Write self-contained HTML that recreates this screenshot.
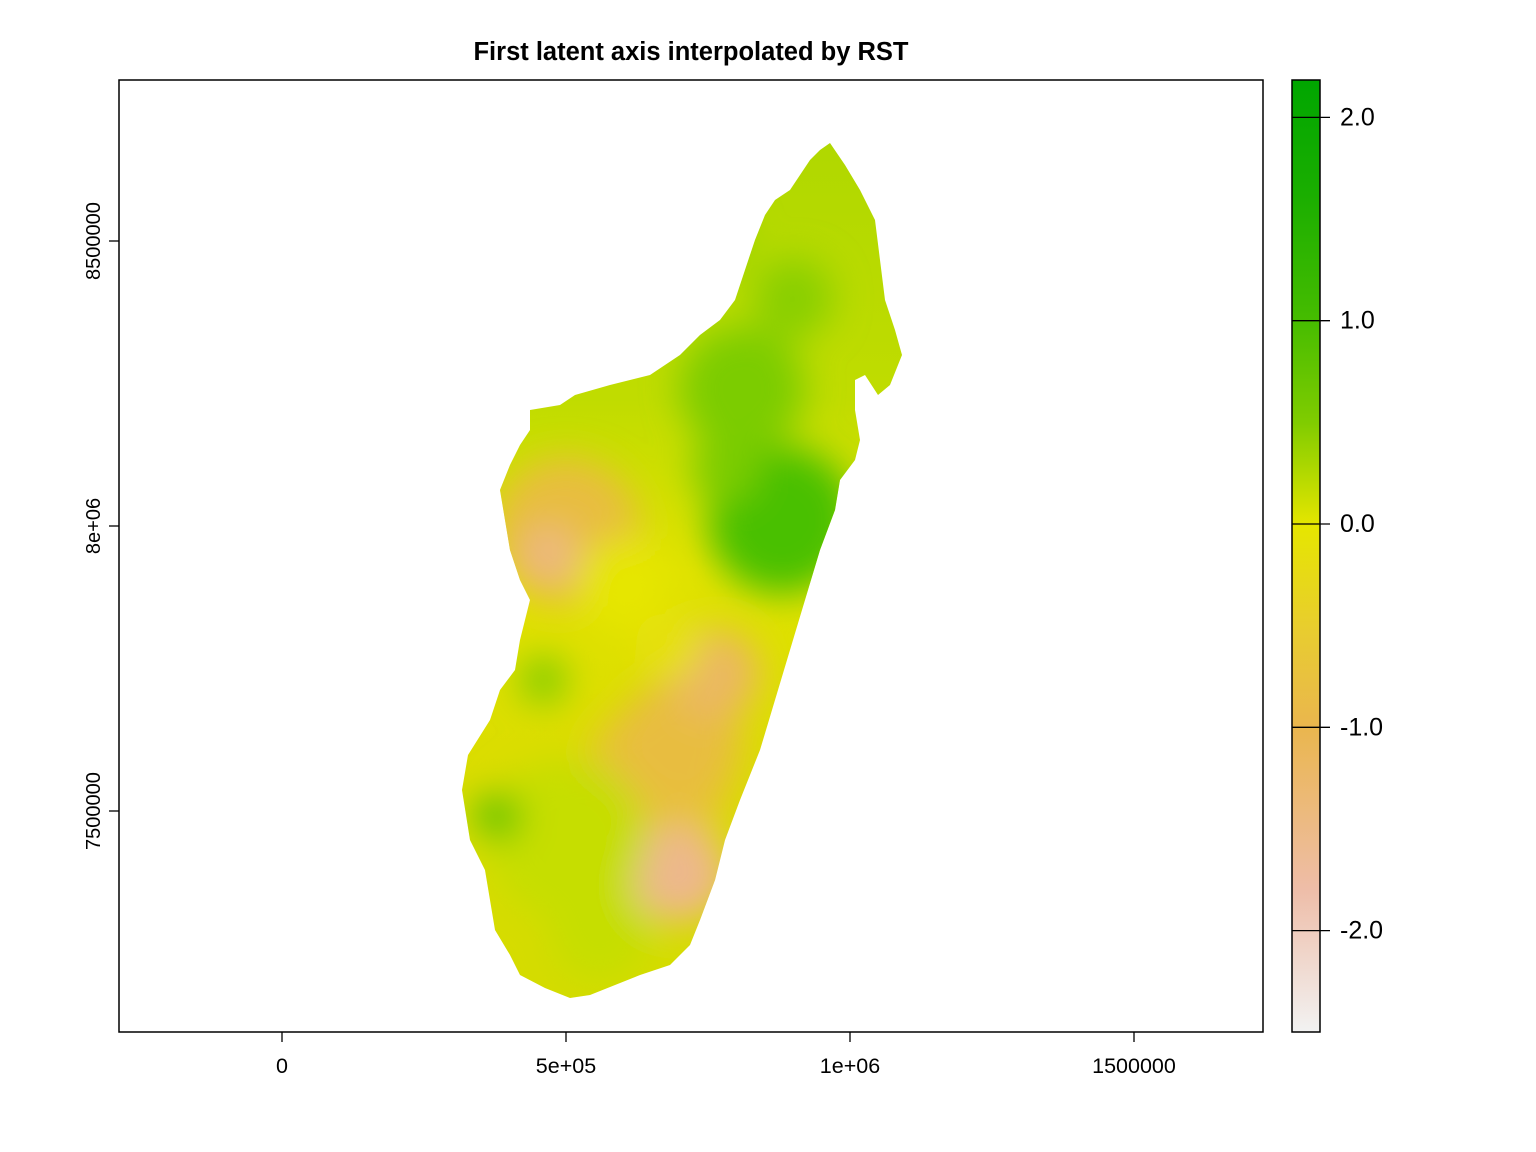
<!DOCTYPE html>
<html>
<head>
<meta charset="utf-8">
<style>
  html,body{margin:0;padding:0;background:#fff;}
  svg{display:block;font-family:"Liberation Sans",Arial,sans-serif;}
</style>
</head>
<body>
<svg id="chart" width="1536" height="1152" viewBox="0 0 1536 1152">
  <defs>
    <linearGradient id="cbar" x1="0" y1="0" x2="0" y2="1">
      <stop offset="0" stop-color="#00A600"/>
      <stop offset="0.12" stop-color="#1AAE00"/>
      <stop offset="0.25" stop-color="#45BC00"/>
      <stop offset="0.36" stop-color="#80CC00"/>
      <stop offset="0.4687" stop-color="#E6E600"/>
      <stop offset="0.58" stop-color="#E8CC30"/>
      <stop offset="0.68" stop-color="#EAB64E"/>
      <stop offset="0.85" stop-color="#EEBDA8"/>
      <stop offset="1" stop-color="#F2F2F2"/>
    </linearGradient>
    <linearGradient id="base" gradientUnits="userSpaceOnUse" x1="0" y1="140" x2="0" y2="1000">
      <stop offset="0" stop-color="#b0d800"/>
      <stop offset="0.3" stop-color="#c0dc00"/>
      <stop offset="0.5" stop-color="#e0e200"/>
      <stop offset="0.75" stop-color="#dadc00"/>
      <stop offset="1" stop-color="#d4dc00"/>
    </linearGradient>
    <clipPath id="island">
      <polygon points="830,143 845,165 860,190 875,220 880,260 885,300 895,330 902,355 890,385 878,395 865,375 855,380 855,410 860,440 855,460 840,480 835,510 820,550 805,600 790,650 775,700 760,750 740,800 725,840 715,880 700,920 690,945 670,965 640,975 615,985 590,995 570,998 545,988 520,975 510,955 495,930 490,900 485,870 470,840 462,790 468,755 490,720 500,690 515,670 520,640 530,600 520,580 510,550 505,520 500,490 510,465 520,445 530,430 530,410 560,405 575,395 610,385 650,375 680,355 700,335 720,320 735,300 745,270 755,240 765,215 775,200 790,190 800,175 810,160 820,150"/>
    </clipPath>
    <filter id="blur" x="-50%" y="-50%" width="200%" height="200%"><feGaussianBlur stdDeviation="18"/></filter>
  </defs>

  <text x="691" y="60" text-anchor="middle" font-size="25.5" font-weight="bold" fill="#000">First latent axis interpolated by RST</text>

  <g id="map" clip-path="url(#island)">
    <rect x="440" y="130" width="480" height="880" fill="url(#base)"/>
    <g id="blobs" filter="url(#blur)"></g>
  </g>

  <rect x="119" y="80" width="1144" height="952" fill="none" stroke="#000" stroke-width="1.5"/>
  <g id="xaxis"></g>
  <g id="yaxis"></g>

  <rect x="1292" y="80" width="28" height="952" fill="url(#cbar)" stroke="#000" stroke-width="1.5"/>
  <g id="cbaxis"></g>
</svg>
<script>
// Axis data
const xTickValues = [0, 500000, 1000000, 1500000];
const xTickLabels = ["0", "5e+05", "1e+06", "1500000"];
const yTickValues = [8500000, 8000000, 7500000];
const yTickLabels = ["8500000", "8e+06", "7500000"];
const cbTickValues = [2, 1, 0, -1, -2];
const cbTickLabels = ["2.0", "1.0", "0.0", "-1.0", "-2.0"];
// Interpolated surface samples (easting, northing, latent value, influence range in metres)
const blobEast  = [880000, 810000, 900000, 780000, 500000, 470000, 660000, 700000, 760000, 700000, 500000, 380000, 460000, 600000, 680000, 560000, 760000];
const blobNorth = [8010000, 8240000, 8400000, 8100000, 7990000, 7950000, 7560000, 7620000, 7740000, 7390000, 7450000, 7490000, 7730000, 7900000, 7790000, 7290000, 8500000];
const blobValue = [1.1, 0.7, 0.6, 0.7, -0.8, -1.5, -0.6, -0.8, -1.2, -1.6, 0.2, 1.0, 0.7, 0.0, -0.1, 0.2, 0.5];
const blobRange = [130000, 110000, 70000, 60000, 130000, 50000, 130000, 110000, 80000, 85000, 140000, 40000, 40000, 80000, 60000, 90000, 60000];

const NS = "http://www.w3.org/2000/svg";
const xS = v => 282 + (v / 500000) * 284;
const yS = v => 526 - ((v - 8000000) / 500000) * 285;
const rS = v => (v / 500000) * 284;
const cS = v => 524 - v * 203.3;

function lerp(a, b, t) { return a.map((x, i) => Math.round(x + (b[i] - x) * t)); }
function colorOf(v) {
  const stops = [[2.18,[0,166,0]],[1.0,[80,194,0]],[0.4,[165,214,0]],[0,[230,230,0]],[-0.5,[230,200,40]],[-1,[234,182,78]],[-1.8,[238,185,159]],[-2.5,[242,242,242]]];
  for (let i = 0; i < stops.length - 1; i++) {
    const [v0, c0] = stops[i], [v1, c1] = stops[i + 1];
    if (v <= v0 && v >= v1) { const c = lerp(c0, c1, (v0 - v) / (v0 - v1)); return `rgb(${c})`; }
  }
  return v > 0 ? "rgb(0,166,0)" : "rgb(242,242,242)";
}
function el(tag, attrs, parent) {
  const e = document.createElementNS(NS, tag);
  for (const k in attrs) e.setAttribute(k, attrs[k]);
  parent.appendChild(e);
  return e;
}

const blobs = document.getElementById("blobs");
blobValue.forEach((v, i) => {
  const c = el("circle", { cx: xS(blobEast[i]), cy: yS(blobNorth[i]), r: rS(blobRange[i]), fill: colorOf(v) }, blobs);
  
  
});

const xa = document.getElementById("xaxis");
xTickValues.forEach((v, i) => {
  const x = xS(v);
  const t = el("line", { x1: x, x2: x, y1: 1032, y2: 1042, stroke: "#000", "stroke-width": 1.3 }, xa);
  
  
  const l = el("text", { x: x, y: 1073, "text-anchor": "middle", "font-size": 21.5 }, xa);
  l.textContent = xTickLabels[i];
  
  
});

const ya = document.getElementById("yaxis");
yTickValues.forEach((v, i) => {
  const y = yS(v);
  const t = el("line", { x1: 109, x2: 119, y1: y, y2: y, stroke: "#000", "stroke-width": 1.3 }, ya);
  
  
  const l = el("text", { x: 0, y: 0, "text-anchor": "middle", "font-size": 20, transform: `translate(100,${y}) rotate(-90)` }, ya);
  l.textContent = yTickLabels[i];
  
  
});

const ca = document.getElementById("cbaxis");
cbTickValues.forEach((v, i) => {
  const y = cS(v);
  const t = el("line", { x1: 1292, x2: 1330, y1: y, y2: y, stroke: "#000", "stroke-width": 1.3 }, ca);
  
  
  const l = el("text", { x: 1340, y: y + 8, "font-size": 25 }, ca);
  l.textContent = cbTickLabels[i];
  
  
});
</script>
</body>
</html>
